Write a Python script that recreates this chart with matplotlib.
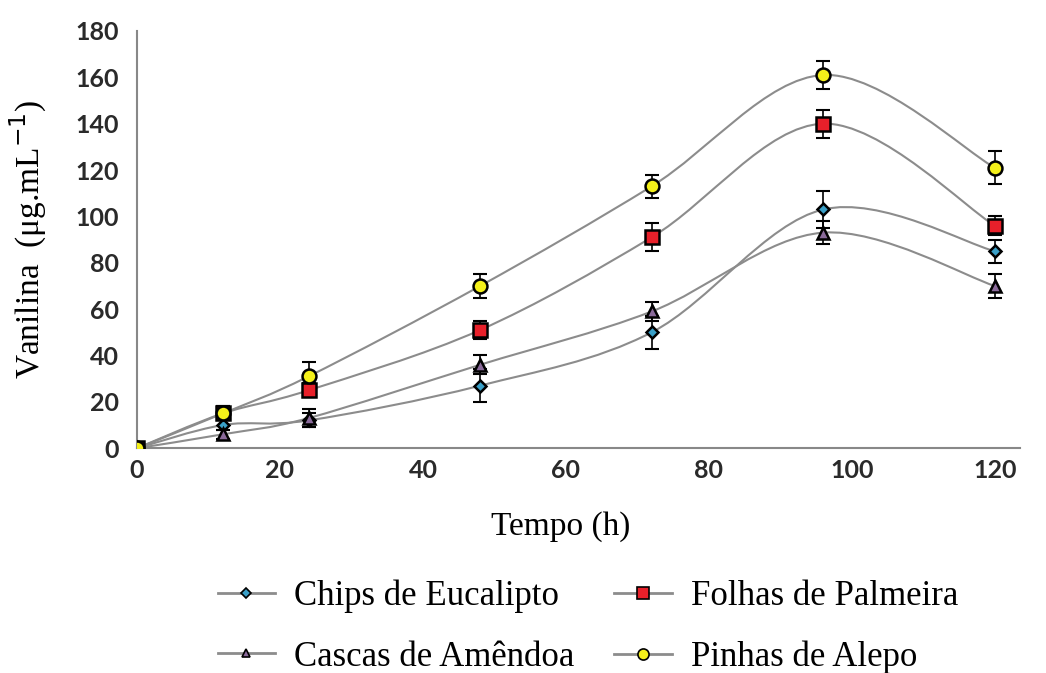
import numpy as np
import matplotlib.pyplot as plt
from matplotlib.path import Path
from matplotlib.patches import PathPatch
from matplotlib.lines import Line2D

# dados
tempo = [0, 12, 24, 48, 72, 96, 120]
chips = [0, 10, 12, 27, 50, 103, 85]
chips_err = [0, 2, 3, 7, 7, 8, 5]
folhas = [0, 15, 25, 51, 91, 140, 96]
folhas_err = [0, 3, 3, 4, 6, 6, 4]
cascas = [0, 6, 13, 36, 59, 93, 70]
cascas_err = [0, 2, 4, 4, 4, 5, 5]
pinhas = [0, 15, 31, 70, 113, 161, 121]
pinhas_err = [0, 3, 6, 5, 5, 6, 7]

nomes = ["Chips de Eucalipto", "Folhas de Palmeira", "Cascas de Amêndoa", "Pinhas de Alepo"]
cores = ["#3aa0c8", "#e8202a", "#8a6a9a", "#f4f01a"]
marcadores = ["D", "s", "^", "o"]
tamanhos = [6, 10, 8, 10]

serif = "Liberation Serif"
sans = "Lato"


def curva_suave(x, y):
    # curva tipo "linha suavizada" do Excel (Bezier)
    x = np.asarray(x, float)
    y = np.asarray(y, float)
    n = len(x)
    verts = [(x[0], y[0])]
    codes = [Path.MOVETO]
    for i in range(n - 1):
        i0 = max(i - 1, 0)
        i3 = min(i + 2, n - 1)
        c1 = (x[i] + (x[i + 1] - x[i0]) / 6, y[i] + (y[i + 1] - y[i0]) / 6)
        c2 = (x[i + 1] - (x[i3] - x[i]) / 6, y[i + 1] - (y[i3] - y[i]) / 6)
        verts += [c1, c2, (x[i + 1], y[i + 1])]
        codes += [Path.CURVE4] * 3
    return Path(verts, codes)


fig = plt.figure(figsize=(10.46, 6.73), dpi=100)
ax = fig.add_axes([0.131, 0.334, 0.844, 0.62])

series = [chips, folhas, cascas, pinhas]
erros = [chips_err, folhas_err, cascas_err, pinhas_err]

for s in series:
    ax.add_patch(PathPatch(curva_suave(tempo, s), fill=False, edgecolor="#8c8c8c", lw=1.5, zorder=2))

for s, e, c, m, ms in zip(series, erros, cores, marcadores, tamanhos):
    ax.errorbar(tempo, s, yerr=e, fmt="none", ecolor="black", elinewidth=1.2, capsize=5, capthick=1.5, zorder=3)
    ax.plot(tempo, s, linestyle="none", marker=m, markersize=ms, markerfacecolor=c,
            markeredgecolor="black", markeredgewidth=1.8, zorder=4)

ax.set_xlim(0, 123.5)
ax.set_ylim(0, 180)
ax.set_xticks(range(0, 121, 20))
ax.set_yticks(range(0, 181, 20))
for lado in ["top", "right"]:
    ax.spines[lado].set_visible(False)
for lado in ["left", "bottom"]:
    ax.spines[lado].set_color("#888888")
    ax.spines[lado].set_linewidth(1.5)
ax.tick_params(axis="y", length=0, pad=13, labelsize=18)
ax.tick_params(axis="x", length=0, pad=8, labelsize=18)
for t in ax.get_xticklabels() + ax.get_yticklabels():
    t.set_fontfamily(sans)
    t.set_fontweight("bold")
    t.set_color("#2a2a2a")

ax.set_xlabel("Tempo (h)", fontfamily=serif, fontsize=24)
ax.xaxis.set_label_coords(0.48, -0.15)
ax.set_ylabel("Vanilina  (μg.mL$^{-1}$)", fontfamily=serif, fontsize=24)
ax.yaxis.set_label_coords(-0.1, 0.5)

handles = []
for c, m, ms, n in zip(cores, marcadores, tamanhos, nomes):
    handles.append(Line2D([], [], color="#8c8c8c", lw=2, marker=m, markersize=ms * 0.8,
                          markerfacecolor=c, markeredgecolor="black", markeredgewidth=1.2, label=n))
ordem = [0, 2, 1, 3]
fig.legend([handles[i] for i in ordem], [nomes[i] for i in ordem], ncol=2, frameon=False,
           loc="lower center", bbox_to_anchor=(0.562, -0.048), prop={"family": serif, "size": 25},
           handlelength=1.65, columnspacing=1.15, labelspacing=0.8, handletextpad=0.55)

fig.savefig("out.png", dpi=100)
